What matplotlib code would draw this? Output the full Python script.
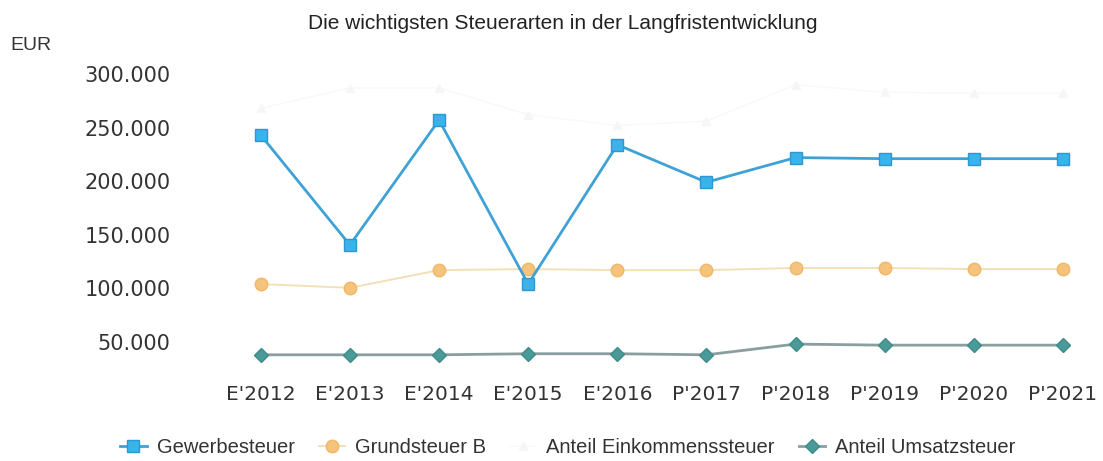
import numpy as np
import matplotlib.pyplot as plt

# Kategorien und Werte (EUR)
jahre = ["E'2012", "E'2013", "E'2014", "E'2015", "E'2016",
         "P'2017", "P'2018", "P'2019", "P'2020", "P'2021"]
gewerbesteuer = [243000, 140500, 257000, 104000, 234000, 199000, 222000, 221000, 221000, 221000]
grundsteuer_b = [104000, 100500, 117000, 118000, 117000, 117000, 119000, 119000, 118000, 118000]
einkommensteuer = [268000, 287000, 287000, 262000, 252000, 256000, 290000, 283000, 282000, 282000]
umsatzsteuer = [38000, 38000, 38000, 39000, 39000, 38000, 48000, 47000, 47000, 47000]
y_ticks = [50000, 100000, 150000, 200000, 250000, 300000]

plt.rcParams['font.family'] = ['DejaVu Sans']

fig = plt.figure(figsize=(11.03, 4.61), dpi=100)
ax = fig.add_axes([0.196, 0.1885, 0.796, 0.651])

x = np.arange(len(jahre))
# kaum sichtbare Reihe (im Original fast weiß)
ax.plot(x, einkommensteuer, color='#f9f9f9', lw=1.2, marker='^', ms=6,
        mfc='#f6f6f6', mec='#f6f6f6', label='Anteil Einkommenssteuer', zorder=1)
ax.plot(x, grundsteuer_b, color='#f3e0b8', lw=1.4, marker='o', ms=9,
        mfc='#f5c37c', mec='#f0b868', label='Grundsteuer B', zorder=2)
ax.plot(x, umsatzsteuer, color='#8a9ea0', lw=2, marker='D', ms=7,
        mfc='#4a9a98', mec='#3f8c8a', label='Anteil Umsatzsteuer', zorder=2)
ax.plot(x, gewerbesteuer, color='#3fa2d6', lw=2, marker='s', ms=9,
        mfc='#3cb2ea', mec='#2a98d2', label='Gewerbesteuer', zorder=3)

ax.set_xlim(-0.5, 9.35)
ax.set_ylim(20000, 300000)
ax.set_xticks(x)
ax.set_xticklabels(jahre, fontsize=14.5, color='#333333')
ax.set_yticks(y_ticks)
ax.set_yticklabels([f"{v:,}".replace(",", ".") for v in y_ticks],
                   fontsize=15, color='#333333')
ax.tick_params(axis='y', length=0, pad=33)
ax.tick_params(axis='x', length=0, pad=8)
for s in ax.spines.values():
    s.set_visible(False)

fig.text(0.51, 0.95, 'Die wichtigsten Steuerarten in der Langfristentwicklung',
         ha='center', va='center', fontsize=15, family='Liberation Sans', color='#222222')
fig.text(0.009, 0.902, 'EUR', ha='left', va='center', fontsize=14,
         family='Liberation Sans', color='#333333')

handles, labels = ax.get_legend_handles_labels()
order = [3, 1, 0, 2]
leg = fig.legend([handles[i] for i in order], [labels[i] for i in order],
                 loc='center', bbox_to_anchor=(0.515, 0.03), ncol=4, frameon=False,
                 prop={'family': 'Liberation Sans', 'size': 14.5},
                 handlelength=1.3, columnspacing=1.2, handletextpad=0.5)
for t in leg.get_texts():
    t.set_color('#333333')

fig.savefig('out.png', dpi=100)
